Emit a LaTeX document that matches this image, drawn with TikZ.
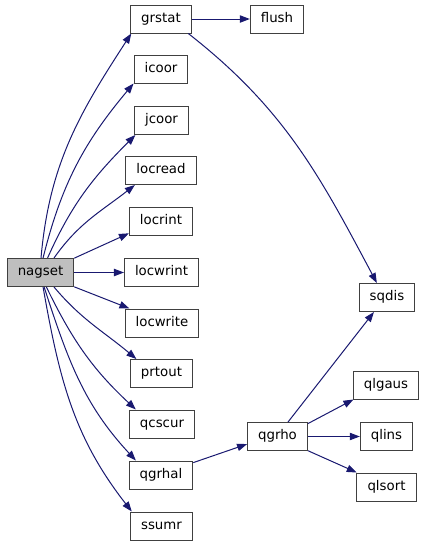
\documentclass[tikz,border=0pt]{standalone}
\usepackage{fontspec}
\setmainfont{DejaVu Sans}
\usetikzlibrary{arrows.meta}
\definecolor{edgeblue}{HTML}{191970}
\definecolor{boxline}{HTML}{404040}

\begin{document}
\begin{tikzpicture}[x=0.75pt,y=0.75pt,>={Triangle[length=7.5pt,width=5.5pt]},
  font=\fontsize{10}{12}\selectfont,
  fn/.style={draw=boxline,line width=0.75pt,fill=white,inner xsep=7.9pt,inner ysep=0pt,
    minimum height=21pt,text height=7.4pt,text depth=2.2pt},
  callarrow/.style={->,edgeblue,line width=0.75pt}]
\useasboundingbox (0,0) rectangle (424,-544);
\node[fn,fill=black!25] (nagset) at (40.5,-272.5) {nagset};
\node[fn] (grstat) at (161,-19) {grstat};
\node[fn] (flush) at (277,-19) {flush};
\node[fn] (icoor) at (161,-69.5) {icoor};
\node[fn] (jcoor) at (161.5,-120.5) {jcoor};
\node[fn] (locread) at (161,-170.5) {locread};
\node[fn] (locrint) at (161,-221) {locrint};
\node[fn] (locwrint) at (161.5,-272.5) {locwrint};
\node[fn] (locwrite) at (162,-323) {locwrite};
\node[fn] (prtout) at (161.5,-373.5) {prtout};
\node[fn] (qcscur) at (162,-424) {qcscur};
\node[fn] (qgrhal) at (161,-475) {qgrhal};
\node[fn] (ssumr) at (161.5,-526) {ssumr};
\node[fn] (sqdis) at (387,-297.5) {sqdis};
\node[fn] (qlgaus) at (386,-385) {qlgaus};
\node[fn] (qgrho) at (277.5,-436.5) {qgrho};
\node[fn] (qlins) at (386.5,-436.5) {qlins};
\node[fn] (qlsort) at (386.5,-487) {qlsort};
\draw[callarrow] (nagset.88) to[out=85,in=237] (grstat.206);
\draw[callarrow] (nagset.80) to[out=76,in=230] (icoor.207);
\draw[callarrow] (nagset.64) to[out=66,in=225] (jcoor.209);
\draw[callarrow] (nagset.47) to[out=55,in=218] (locread.209);
\draw[callarrow] (nagset.23) -- (locrint.201);
\draw[callarrow] (nagset) -- (locwrint);
\draw[callarrow] (nagset.-23) -- (locwrite.156);
\draw[callarrow] (nagset.-47) to[out=-50,in=140] (prtout.150);
\draw[callarrow] (nagset.-68) to[out=-64,in=137] (qcscur.151);
\draw[callarrow] (nagset.-76) to[out=-72,in=133] (qgrhal.150);
\draw[callarrow] (nagset.-80) to[out=-80,in=128] (ssumr.154);
\draw[callarrow] (grstat) -- (flush);
\draw[callarrow] (grstat.-28) to[out=-38,in=118] (sqdis.125);
\draw[callarrow] (qgrhal.21) -- (qgrho.194);
\draw[callarrow] (qgrho.54) -- (sqdis.228);
\draw[callarrow] (qgrho.23) -- (qlgaus.204);
\draw[callarrow] (qgrho) -- (qlins);
\draw[callarrow] (qgrho.-25) -- (qlsort.154);
\end{tikzpicture}
\end{document}
